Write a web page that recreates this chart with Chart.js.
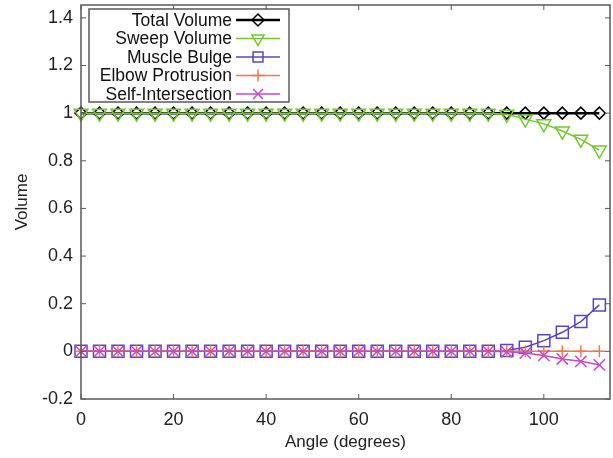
<!DOCTYPE html>
<html lang="en">
<head>
    <meta charset="UTF-8">
    <title>Volume vs Angle</title>
    <script src="https://cdn.jsdelivr.net/npm/chart.js@4"></script>
    <style>
        html, body { margin: 0; padding: 0; background: #fff; }
        #wrap { width: 613px; height: 458px; }
    </style>
</head>
<body>
<div id="wrap"><canvas id="volume-chart"></canvas></div>

<script>
    // angles (degrees)
    const angles = [0, 4, 8, 12, 16, 20, 24, 28, 32, 36, 40, 44, 48, 52, 56, 60,
        64, 68, 72, 76, 80, 84, 88, 92, 96, 100, 104, 108, 112]

    const totalVolume = [1, 1, 1, 1, 1, 1, 1, 1, 1, 1, 1, 1, 1, 1, 1, 1,
        1, 1, 1, 1, 1, 1, 1, 1, 1, 1, 1, 1, 1]
    const sweepVolume = [1, 1, 1, 1, 1, 1, 1, 1, 1, 1, 1, 1, 1, 1, 1, 1,
        1, 1, 1, 1, 1, 1, 1, 0.995, 0.975, 0.955, 0.925, 0.89, 0.845]
    const muscleBulge = [0, 0, 0, 0, 0, 0, 0, 0, 0, 0, 0, 0, 0, 0, 0, 0,
        0, 0, 0, 0, 0, 0, 0, 0.004, 0.017, 0.045, 0.08, 0.125, 0.195]
    const elbowProtrusion = [0, 0, 0, 0, 0, 0, 0, 0, 0, 0, 0, 0, 0, 0, 0, 0,
        0, 0, 0, 0, 0, 0, 0, 0, 0, 0, 0, 0, 0]
    const selfIntersection = [0, 0, 0, 0, 0, 0, 0, 0, 0, 0, 0, 0, 0, 0, 0, 0,
        0, 0, 0, 0, 0, 0, 0, -0.002, -0.007, -0.017, -0.032, -0.042, -0.057]

    const xTicks = [0, 20, 40, 60, 80, 100]
    const yTicks = [-0.2, 0, 0.2, 0.4, 0.6, 0.8, 1, 1.2, 1.4]

    const FONT = 'Liberation Sans, Arial, Helvetica, sans-serif'

    const pts = vals => angles.map((a, i) => ({x: a, y: vals[i]}))

    const series = [
        {label: 'Total Volume', data: totalVolume, color: '#000000', style: 'rectRot', radius: 6, width: 2.5},
        {label: 'Sweep Volume', data: sweepVolume, color: '#72c82e', style: 'triangle', radius: 8, width: 1.5, rotation: 180},
        {label: 'Muscle Bulge', data: muscleBulge, color: '#5a44c4', style: 'rect', radius: 8.5, width: 1.5},
        {label: 'Elbow Protrusion', data: elbowProtrusion, color: '#f07a4a', style: 'cross', radius: 6, width: 1.5},
        {label: 'Self-Intersection', data: selfIntersection, color: '#c64ac8', style: 'crossRot', radius: 8, width: 1.5},
    ]

    // frame + inward ticks like gnuplot
    const framePlugin = {
        id: 'frame',
        afterDatasetsDraw(chart) {
            const {ctx, chartArea: a, scales} = chart
            ctx.save()
            ctx.strokeStyle = '#5a5a5a'
            ctx.lineWidth = 1.5
            ctx.strokeRect(a.left, a.top, a.right - a.left, a.bottom - a.top)
            ctx.lineWidth = 1
            ctx.beginPath()
            xTicks.forEach(v => {
                const x = scales.x.getPixelForValue(v)
                ctx.moveTo(x, a.bottom); ctx.lineTo(x, a.bottom - 5)
                ctx.moveTo(x, a.top); ctx.lineTo(x, a.top + 5)
            })
            yTicks.forEach(v => {
                const y = scales.y.getPixelForValue(v)
                ctx.moveTo(a.left, y); ctx.lineTo(a.left + 5, y)
                ctx.moveTo(a.right, y); ctx.lineTo(a.right - 5, y)
            })
            ctx.stroke()
            ctx.restore()
        }
    }

    // gnuplot style key: right aligned text, line sample with marker
    const keyPlugin = {
        id: 'key',
        afterDraw(chart) {
            const {ctx} = chart
            const box = {left: 89, top: 9, right: 289, bottom: 102}
            const textRight = 232, lineL = 236, lineR = 280
            const rowTop = 20, rowStep = 18.5
            ctx.save()
            ctx.fillStyle = '#fff'
            ctx.fillRect(box.left, box.top, box.right - box.left, box.bottom - box.top)
            ctx.strokeStyle = '#5a5a5a'
            ctx.lineWidth = 1.5
            ctx.strokeRect(box.left, box.top, box.right - box.left, box.bottom - box.top)
            ctx.font = '17.5px ' + FONT
            ctx.textAlign = 'right'
            ctx.textBaseline = 'middle'
            chart.data.datasets.forEach((ds, i) => {
                const y = rowTop + i * rowStep
                ctx.fillStyle = '#111'
                ctx.fillText(ds.label, textRight, y + 1)
                ctx.strokeStyle = ds.borderColor
                ctx.lineWidth = ds.borderWidth
                ctx.beginPath()
                ctx.moveTo(lineL, y); ctx.lineTo(lineR, y)
                ctx.stroke()
                ctx.lineWidth = 1.5
                ctx.fillStyle = 'rgba(0,0,0,0)'
                Chart.helpers.drawPoint(ctx, {
                    pointStyle: ds.pointStyle,
                    radius: Math.min(ds.pointRadius, 7),
                    rotation: ds.pointRotation || 0,
                    borderWidth: 1.5
                }, (lineL + lineR) / 2, y)
            })
            ctx.restore()
        }
    }

    new Chart(document.getElementById('volume-chart'), {
        type: 'line',
        data: {
            datasets: series.map((s, i) => ({
                label: s.label,
                data: pts(s.data),
                borderColor: s.color,
                backgroundColor: 'rgba(0,0,0,0)',
                borderWidth: s.width,
                pointStyle: s.style,
                pointRadius: s.radius,
                pointRotation: s.rotation || 0,
                pointBorderColor: s.color,
                pointBorderWidth: 1.5,
                pointBackgroundColor: 'rgba(0,0,0,0)',
                fill: false,
                tension: 0,
                order: series.length - i,
                clip: false
            }))
        },
        options: {
            responsive: true,
            maintainAspectRatio: false,
            animation: false,
            layout: {autoPadding: false, padding: {top: 5, right: 3, left: 0, bottom: 0}},
            plugins: {
                legend: {display: false},
                tooltip: {enabled: false}
            },
            scales: {
                x: {
                    type: 'linear',
                    min: 0,
                    max: 114.3,
                    afterBuildTicks: s => { s.ticks = xTicks.map(v => ({value: v})) },
                    afterFit: s => { s.height = 59; s.paddingLeft = 0; s.paddingRight = 0 },
                    grid: {display: false, drawTicks: false},
                    border: {display: false},
                    ticks: {
                        color: '#222',
                        padding: 10,
                        font: {family: FONT, size: 18},
                        maxRotation: 0
                    },
                    title: {
                        display: true,
                        text: 'Angle (degrees)',
                        color: '#222',
                        font: {family: FONT, size: 17},
                        padding: {top: 0, bottom: 5}
                    }
                },
                y: {
                    type: 'linear',
                    min: -0.2,
                    max: 1.454,
                    afterBuildTicks: s => { s.ticks = yTicks.map(v => ({value: v})) },
                    afterFit: s => { s.width = 81; s.paddingTop = 0; s.paddingBottom = 0 },
                    grid: {display: false, drawTicks: false},
                    border: {display: false},
                    ticks: {
                        color: '#222',
                        padding: 8,
                        font: {family: FONT, size: 18},
                        callback: v => String(Math.round(v * 10) / 10)
                    },
                    title: {
                        display: true,
                        text: 'Volume',
                        color: '#222',
                        font: {family: FONT, size: 17},
                        padding: {top: 12, bottom: 0}
                    }
                }
            }
        },
        plugins: [framePlugin, keyPlugin]
    })
</script>
</body>
</html>
